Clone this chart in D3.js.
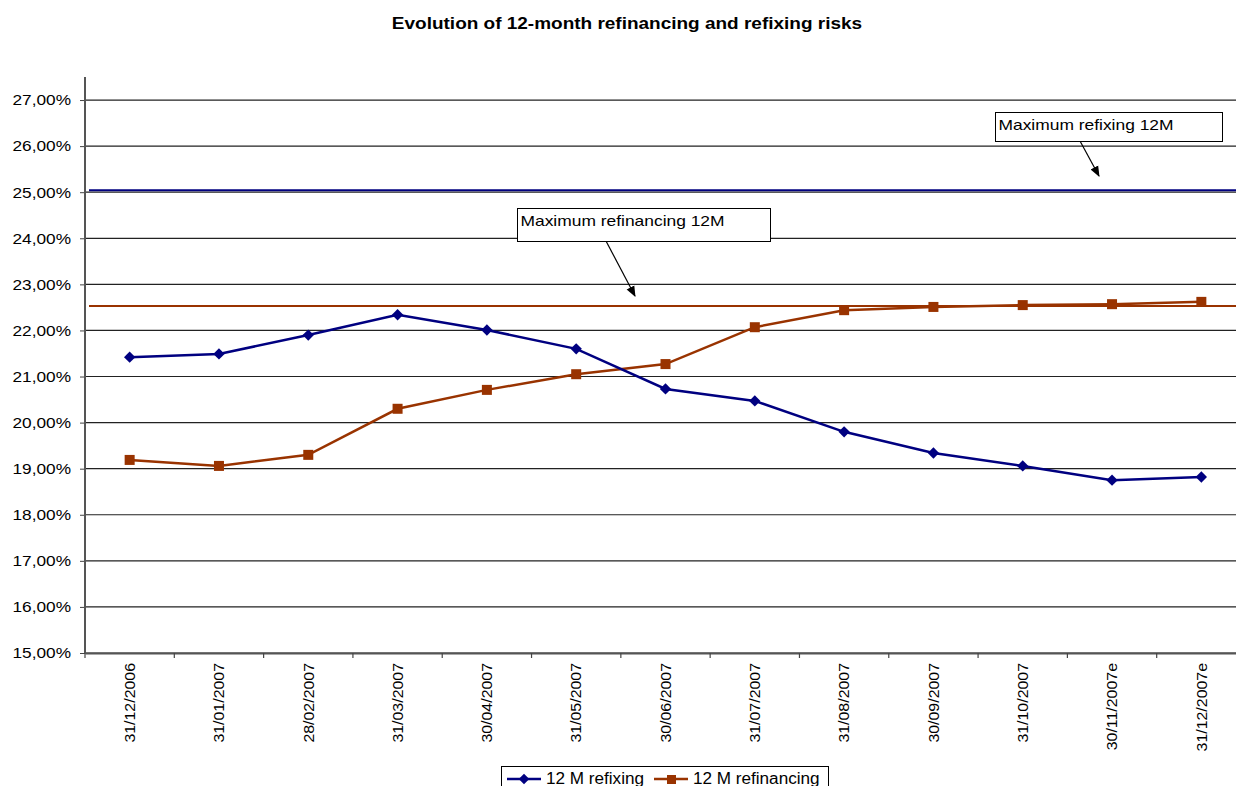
<!DOCTYPE html>
<html><head><meta charset="utf-8">
<script src="https://cdn.jsdelivr.net/npm/d3@7"></script>
<style>body{margin:0;background:#fff;font-family:"Liberation Sans",Arial,sans-serif;}svg{display:block}</style>
</head><body>
<svg id="c" width="1236" height="786"></svg>
<script>
const categories = ["31/12/2006","31/01/2007","28/02/2007","31/03/2007","30/04/2007","31/05/2007","30/06/2007","31/07/2007","31/08/2007","30/09/2007","31/10/2007","30/11/2007e","31/12/2007e"];
const refixing = [21.42,21.49,21.90,22.34,22.01,21.60,20.73,20.47,19.80,19.34,19.06,18.75,18.82];
const refinancing = [19.19,19.06,19.30,20.30,20.71,21.05,21.27,22.07,22.44,22.51,22.55,22.57,22.62];
const maxRefixing = 25.04;
const maxRefinancing = 22.53;
const yTicks = [15,16,17,18,19,20,21,22,23,24,25,26,27];
const seriesNames = ["12 M refixing","12 M refinancing"];

const svg = d3.select("#c");
const L = 85, R = 1246, T = 77, B = 653;
const x = d3.scaleBand().domain(categories).range([L, R]);
const y = d3.scaleLinear().domain([15, 27.5]).range([B, T]);
const fmt = v => v.toFixed(2).replace(".", ",") + "%";
function stretch(sel, f) {
  sel.each(function () {
    const w = this.getComputedTextLength();
    d3.select(this).attr("textLength", w * f).attr("lengthAdjust", "spacingAndGlyphs");
  });
}

svg.append("text").attr("x", 627).attr("y", 29).attr("text-anchor", "middle")
  .attr("font-size", 16.5).attr("font-weight", "bold").text("Evolution of 12-month refinancing and refixing risks")
  .call(stretch, 1.15);

// gridlines
svg.append("g").selectAll("line").data(yTicks).join("line")
  .attr("x1", L).attr("x2", 1236).attr("y1", d => y(d)).attr("y2", d => y(d))
  .attr("stroke", "#222").attr("stroke-width", 1.2);

// y axis
const ya = svg.append("g").attr("transform", `translate(${L},0)`)
  .call(d3.axisLeft(y).tickValues(yTicks).tickFormat(fmt).tickSize(5).tickPadding(9));
ya.select(".domain").remove();
ya.selectAll("line").attr("stroke", "#444");
ya.selectAll("text").attr("font-size", 15).attr("font-family", "Liberation Sans, Arial").attr("fill", "#000")
  .call(stretch, 1.15);
svg.append("line").attr("x1", L).attr("x2", L).attr("y1", T).attr("y2", B).attr("stroke", "#555").attr("stroke-width", 2);

// x axis
const xa = svg.append("g").attr("transform", `translate(0,${B})`)
  .call(d3.axisBottom(x).tickSize(0).tickPadding(0));
xa.select(".domain").attr("stroke", "#555").attr("stroke-width", 2);
xa.selectAll(".tick text").attr("font-size", 15).attr("font-family", "Liberation Sans, Arial").attr("fill", "#000")
  .attr("transform", "rotate(-90)").attr("text-anchor", "end").attr("x", -10).attr("y", 0).attr("dy", "0.35em")
  .call(stretch, 1.06);
const bounds = categories.map(c => x(c)).concat([R]);
svg.append("g").selectAll("line").data(bounds).join("line")
  .attr("x1", d => d).attr("x2", d => d).attr("y1", B).attr("y2", B + 5).attr("stroke", "#444").attr("stroke-width", 1.2);

// reference lines
svg.append("line").attr("x1", 89).attr("x2", 1236).attr("y1", y(maxRefixing)).attr("y2", y(maxRefixing))
  .attr("stroke", "#000080").attr("stroke-width", 2);
svg.append("line").attr("x1", 89).attr("x2", 1236).attr("y1", y(maxRefinancing)).attr("y2", y(maxRefinancing))
  .attr("stroke", "#993300").attr("stroke-width", 2);

const cx = c => x(c) + x.bandwidth() / 2;
const line = d3.line().x((d, i) => cx(categories[i])).y(d => y(d));
svg.append("path").datum(refinancing).attr("d", line).attr("fill", "none").attr("stroke", "#993300").attr("stroke-width", 2.5);
svg.append("path").datum(refixing).attr("d", line).attr("fill", "none").attr("stroke", "#000080").attr("stroke-width", 2.5);
svg.append("g").selectAll("rect").data(refinancing).join("rect")
  .attr("x", (d, i) => cx(categories[i]) - 5).attr("y", d => y(d) - 5).attr("width", 10).attr("height", 10).attr("fill", "#993300");
svg.append("g").selectAll("path").data(refixing).join("path")
  .attr("d", d3.symbol().type(d3.symbolSquare).size(64))
  .attr("transform", (d, i) => `translate(${cx(categories[i])},${y(d)}) rotate(45)`).attr("fill", "#000080");

// annotations
svg.append("defs").append("marker").attr("id", "arr").attr("viewBox", "0 0 10 10").attr("refX", 9).attr("refY", 5)
  .attr("markerWidth", 9).attr("markerHeight", 9).attr("orient", "auto")
  .append("path").attr("d", "M0,1 L10,5 L0,9 Z").attr("fill", "#000");
function note(x0, y0, w, h, text, ax1, ay1, ax2, ay2) {
  svg.append("line").attr("x1", ax1).attr("y1", ay1).attr("x2", ax2).attr("y2", ay2)
    .attr("stroke", "#000").attr("stroke-width", 1.2).attr("marker-end", "url(#arr)");
  svg.append("rect").attr("x", x0).attr("y", y0).attr("width", w).attr("height", h)
    .attr("fill", "#fff").attr("stroke", "#000").attr("stroke-width", 1);
  svg.append("text").attr("x", x0 + 3).attr("y", y0 + 17).attr("font-size", 15).text(text).call(stretch, 1.16);
}
note(517.5, 208.5, 253, 33, "Maximum refinancing 12M", 606, 241, 635, 296);
note(995.5, 112.5, 227, 29, "Maximum refixing 12M", 1080, 141, 1099, 176);

// legend
const lg = svg.append("g");
lg.append("rect").attr("x", 501.5).attr("y", 766.5).attr("width", 327).attr("height", 30).attr("fill", "#fff").attr("stroke", "#000");
const items = [{n: seriesNames[0], c: "#000080", s: "d", x: 507}, {n: seriesNames[1], c: "#993300", s: "s", x: 654}];
items.forEach(it => {
  lg.append("line").attr("x1", it.x).attr("x2", it.x + 34).attr("y1", 779).attr("y2", 779).attr("stroke", it.c).attr("stroke-width", 2.5);
  if (it.s === "d") lg.append("path").attr("d", d3.symbol().type(d3.symbolSquare).size(56)).attr("transform", `translate(${it.x + 17},779) rotate(45)`).attr("fill", it.c);
  else lg.append("rect").attr("x", it.x + 13).attr("y", 775).attr("width", 9).attr("height", 9).attr("fill", it.c);
  lg.append("text").attr("x", it.x + 39).attr("y", 784).attr("font-size", 16).text(it.n).call(stretch, 1.07);
});
</script>
</body></html>
